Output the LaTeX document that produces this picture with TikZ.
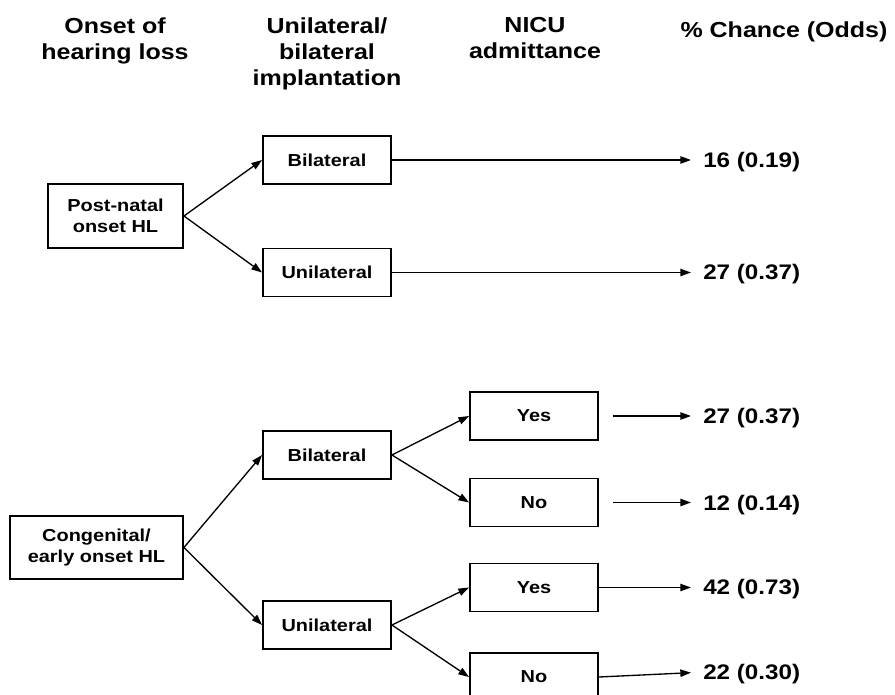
\documentclass[tikz,border=0pt]{standalone}
\usepackage{fontspec}
\setmainfont{Liberation Sans}[FakeStretch=1.15]
\usetikzlibrary{arrows.meta}
\usetikzlibrary{positioning}

\tikzset{
  choice/.style={draw, line width=1.4pt, minimum width=96pt, minimum height=36pt,
    inner sep=0pt, align=center, font=\fontsize{13}{15.75}\selectfont\bfseries},
  onset/.style={choice, minimum height=48pt},
  head/.style={anchor=north, inner sep=0pt, align=center,
    font=\fontsize{16.3}{19.5}\selectfont\bfseries},
  result/.style={anchor=west, inner xsep=9pt, inner ysep=0pt,
    font=\fontsize{15.8}{19}\selectfont\bfseries},
  branch/.style={-{Triangle[length=8pt,width=5.5pt]}, line width=1pt},
}

\begin{document}
\begin{tikzpicture}[x=0.75pt, y=-0.75pt]
\useasboundingbox (0,0) rectangle (895,695);

\node[head] (h1) at (115,17) {Onset of\\hearing loss};
\node[head] (h2) at (327,17) {Unilateral/\\bilateral\\implantation};
\node[head] (h3) at (535,17) {NICU\\admittance};
\node[head] (h4) at (784,21) {\% Chance (Odds)};

\node[onset, minimum width=101.25pt] (post) at (115.5,216) {Post-natal\\onset HL};
\node[choice] (bil1) at (327,160) {Bilateral};
\node[choice] (uni1) at (327,272.5) {Unilateral};

\node[onset, minimum width=129.75pt, minimum height=47.25pt] (cong) at (96.5,547.5) {Congenital/\\early onset HL};
\node[choice] (bil2) at (327,455) {Bilateral};
\node[choice] (uni2) at (327,625) {Unilateral};
\node[choice] (yes1) at (534,416) {Yes};
\node[choice] (no1) at (534,502.5) {No};
\node[choice] (yes2) at (534,587.5) {Yes};
\node[choice] (no2) at (534,677) {No};

\node[result] (r1) at (691,162) {16 (0.19)};
\node[result] (r2) at (691,274) {27 (0.37)};
\node[result] (r3) at (691,418) {27 (0.37)};
\node[result] (r4) at (691,505) {12 (0.14)};
\node[result] (r5) at (691,589) {42 (0.73)};
\node[result] (r6) at (691,674) {22 (0.30)};

\draw[branch] (post.east) -- (bil1.west);
\draw[branch] (post.east) -- (uni1.west);
\draw[branch] (cong.east) -- (bil2.west);
\draw[branch] (cong.east) -- (uni2.west);
\draw[branch] (bil2.east) -- (yes1.west);
\draw[branch] (bil2.east) -- (no1.west);
\draw[branch] (uni2.east) -- (yes2.west);
\draw[branch] (uni2.east) -- (no2.west);

\draw[branch] (bil1.east) -- (bil1.east -| r1.west);
\draw[branch] (uni1.east) -- (uni1.east -| r2.west);
\draw[branch, shorten <=10.5pt] (yes1.east) -- (yes1.east -| r3.west);
\draw[branch, shorten <=10.5pt] (no1.east) -- (no1.east -| r4.west);
\draw[branch] (yes2.east) -- (yes2.east -| r5.west);
\draw[branch] (no2.east) -- ([yshift=1pt]r6.west);
\end{tikzpicture}
\end{document}
